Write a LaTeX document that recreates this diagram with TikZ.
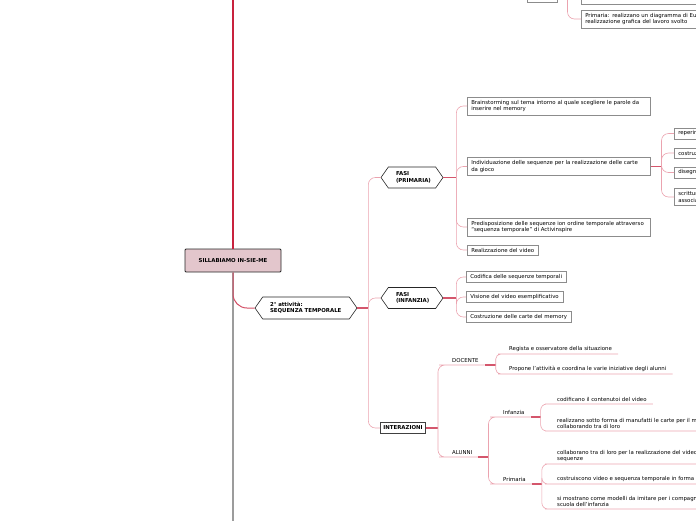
\documentclass[tikz,border=0pt]{standalone}
\usepackage{fontspec}
\setmainfont{DejaVu Sans}
\usepackage{tikz}
\usetikzlibrary{positioning,shapes.symbols}
\definecolor{trunkred}{HTML}{C8223E}
\definecolor{linkpink}{HTML}{EBA3AF}
\definecolor{linkdark}{HTML}{D4566C}
\definecolor{trunkgrey}{HTML}{9C9C9C}
\definecolor{rootfill}{HTML}{E3C6CC}
\definecolor{boxline}{HTML}{8C8C8C}
\newcommand{\mapfont}{\fontsize{5.4}{6.4}\selectfont}

\begin{document}
\begin{tikzpicture}[
  x=1pt, y=-1pt,
  root/.style={draw=black!85, line width=0.9pt, fill=rootfill, rounded corners=1pt,
    minimum width=96pt, minimum height=23pt, font=\mapfont\bfseries},
  hexa/.style={draw=black!85, line width=0.6pt, fill=white, shape=signal,
    signal to=west and east, signal pointer angle=110, align=left,
    font=\mapfont\bfseries, inner sep=0pt},
  box/.style={draw=boxline, line width=0.5pt, fill=white, anchor=west, align=left,
    font=\mapfont, inner xsep=4pt, inner ysep=3pt},
  topic/.style={anchor=south west, align=left, font=\mapfont, inner xsep=6pt, inner ysep=1.8pt},
  link/.style={draw=linkpink, line width=0.6pt, rounded corners=7pt},
  stem/.style={draw=linkdark, line width=1.1pt}
]
\useasboundingbox (0,0) rectangle (696,520);
\clip (0,0) rectangle (696,520);

% trunk and central topic
\coordinate (trunktop) at (233,-2);
\coordinate (trunkend) at (233,522);
\node[root] (root) at (233,260.5) {SILLABIAMO IN-SIE-ME};
\draw[draw=trunkred, line width=1.6pt] (trunktop) -- (root.north);
\draw[draw=trunkgrey, line width=1.6pt] (root.south) -- (trunkend);

% leftovers of the branch above
\node[box, anchor=south west, minimum width=30pt, minimum height=12pt] (topsub) at (527,2) {};
\node[box, anchor=south west, minimum width=130pt, minimum height=14pt] (topprev) at (581,4) {};
\node[box, text width=200pt] (topprim) at (581,19)
  {Primaria: realizzano un diagramma di Eulero-Venn e la\\realizzazione grafica del lavoro svolto};
\draw[stem] (topsub.east) -- ++(10,0) coordinate (topfork);
\draw[link] (topfork) |- (topprim.west);
\draw[link] (topfork) |- (topprev.west);

% second activity
\node[hexa, minimum width=102pt, minimum height=22pt, text width=72pt] (seq) at (306,308)
  {2° attività:\\SEQUENZA TEMPORALE};
\draw[draw=trunkred!80, line width=1pt, rounded corners=14pt] (root.south) |- (seq.west);
\draw[stem] (seq.east) -- ++(11,0) coordinate (seqfork);

\node[hexa, minimum width=62pt, minimum height=21pt, text width=32pt] (fasiP) at (412,177.5)
  {FASI\\(PRIMARIA)};
\node[hexa, minimum width=62pt, minimum height=21pt, text width=32pt] (fasiI) at (412,298)
  {FASI\\(INFANZIA)};
\node[box, draw=black!75, line width=0.7pt, font=\mapfont\bfseries, minimum width=44pt,
  minimum height=11pt, inner xsep=3pt, inner ysep=1.5pt] (inter) at (380,428) {INTERAZIONI};
\draw[link] (seqfork) |- (fasiP.west);
\draw[link] (seqfork) |- (fasiI.west);
\draw[link] (seqfork) |- (inter.west);

% phases, primary school
\node[box, text width=175pt] (brain) at (467,106)
  {Brainstorming sul tema intorno al quale scegliere le parole da\\inserire nel memory};
\node[box, text width=175pt] (indiv) at (467,166.5)
  {Individuazione delle sequenze per la realizzazione delle carte\\da gioco};
\node[box, text width=175pt] (predis) at (467,227)
  {Predisposizione delle sequenze ion ordine temporale attraverso\\``sequenza temporale'' di Activinspire};
\node[box] (video) at (467,250) {Realizzazione del video};
\draw[stem] (fasiP.east) -- ++(13,0) coordinate (fpfork);
\draw[link] (fpfork) |- (brain.west);
\draw[link] (fpfork) |- (indiv.west);
\draw[link] (fpfork) |- (predis.west);
\draw[link] (fpfork) |- (video.west);

\node[box, text width=60pt] (reper) at (674,133.5) {reperire};
\node[box, text width=60pt] (costr) at (674,153) {costruzione};
\node[box, text width=60pt] (diseg) at (674,172.5) {disegno};
\node[box, text width=60pt] (scrit) at (674,197) {scrittura\\associata};
\draw[stem] (indiv.east) -- ++(11,0) coordinate (indfork);
\draw[link] (indfork) |- (reper.west);
\draw[link] (indfork) |- (costr.west);
\draw[link] (indfork) |- (diseg.west);
\draw[link] (indfork) |- (scrit.west);

% phases, infant school
\node[box] (codif) at (466,277) {Codifica delle sequenze temporali};
\node[box] (vision) at (466,297) {Visione del video esemplificativo};
\node[box] (costrm) at (466,317) {Costruzione delle carte del memory};
\draw[stem] (fasiI.east) -- ++(13,0) coordinate (fifork);
\draw[link] (fifork) |- (codif.west);
\draw[link] (fifork) |- (vision.west);
\draw[link] (fifork) |- (costrm.west);

% interactions
\node[topic] (docente) at (446,365) {DOCENTE};
\node[topic] (alunni) at (446,457) {ALUNNI};
\draw[stem] (inter.east) -- ++(12,0) coordinate (intfork);
\draw[link] (intfork) |- (docente.south west) -- (docente.south east);
\draw[link] (intfork) |- (alunni.south west) -- (alunni.south east);

\node[topic] (regista) at (503,354) {Regista e osservatore della situazione};
\node[topic] (propone) at (503,374) {Propone l'attività e coordina le varie iniziative degli alunni};
\draw[stem] (docente.south east) -- ++(11,0) coordinate (docfork);
\draw[link, rounded corners=5pt] (docfork) |- (regista.south west) -- (regista.south east);
\draw[link, rounded corners=5pt] (docfork) |- (propone.south west) -- (propone.south east);

\node[topic] (infanzia) at (497,417) {Infanzia};
\node[topic] (primaria) at (497,484) {Primaria};
\draw[stem] (alunni.south east) -- ++(10,0) coordinate (alufork);
\draw[link] (alufork) |- (infanzia.south west) -- (infanzia.south east);
\draw[link] (alufork) |- (primaria.south west) -- (primaria.south east);

\node[topic] (codific) at (551,404) {codificano il contenutoi del video};
\node[topic] (realiz) at (551,431)
  {realizzano sotto forma di manufatti le carte per il memory\\collaborando tra di loro};
\draw[stem] (infanzia.south east) -- ++(10,0) coordinate (inffork);
\draw[link, rounded corners=6pt] (inffork) |- (codific.south west) -- (codific.south east);
\draw[link, rounded corners=6pt] (inffork) |- (realiz.south west) -- (realiz.south east);

\node[topic] (collab) at (551,464)
  {collaborano tra di loro per la realizzazione del video e delle\\sequenze};
\node[topic] (costrui) at (551,484) {costruiscono video e sequenza temporale in forma digitale};
\node[topic] (modelli) at (551,509)
  {si mostrano come modelli da imitare per i compagni della\\scuola dell'infanzia};
\draw[stem] (primaria.south east) -- ++(10,0) coordinate (prifork);
\draw[link, rounded corners=6pt] (prifork) |- (collab.south west) -- (collab.south east);
\draw[link, rounded corners=6pt] (prifork) |- (costrui.south west) -- (costrui.south east);
\draw[link, rounded corners=6pt] (prifork) |- (modelli.south west) -- (modelli.south east);
\end{tikzpicture}
\end{document}
